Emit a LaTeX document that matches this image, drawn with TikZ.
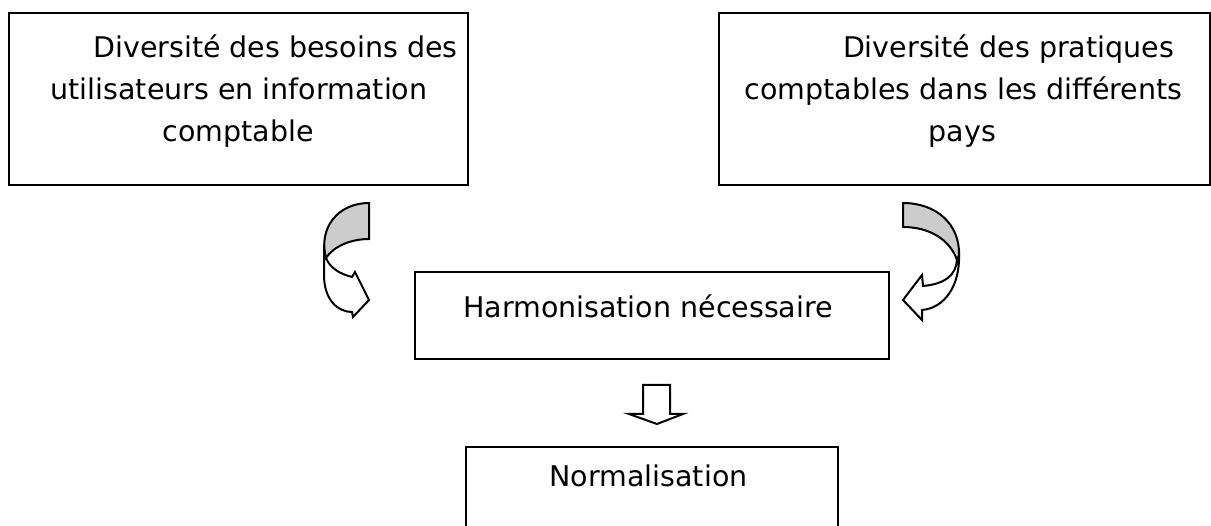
\documentclass[tikz,border=0pt]{standalone}
\usepackage{fontspec}
\setmainfont{DejaVu Sans}
\begin{document}
\begin{tikzpicture}[x=1pt,y=-1pt,
  box/.style={draw=black, line width=2.4pt, rectangle, inner sep=0pt},
  txt/.style={inner sep=0pt, font=\fontsize{28.5}{42}\selectfont},
  frontface/.style={draw=black, line width=2pt, line join=miter, fill=white},
  backface/.style={draw=black, line width=2pt, line join=miter, fill=black!20}]
\clip (0,0) rectangle (1211,526);
\fill[white] (0,0) rectangle (1211,526);

% boxes
\node[box, minimum width=459pt, minimum height=172pt] (b1) at (238.5,99) {};
\node[box, minimum width=491pt, minimum height=172pt] (b2) at (964.5,99) {};
\node[box, minimum width=474pt, minimum height=87pt] (h) at (652,315.5) {};
\node[box, minimum width=372pt, minimum height=110pt] (n) at (652,502) {};

% texts
\node[txt, anchor=base] (l1) at (275.5,58) {Diversité des besoins des};
\node[txt, anchor=base] (l2) at (239,100) {utilisateurs en information};
\node[txt, anchor=base] (l3) at (238,142) {comptable};
\node[txt, anchor=base] (r1) at (1008.5,58) {Diversité des pratiques};
\node[txt, anchor=base] (r2) at (963.5,100) {comptables dans les différents};
\node[txt, anchor=base] (r3) at (962.5,142) {pays};
\node[txt, anchor=base] (ht) at (648,318) {Harmonisation nécessaire};
\node[txt, anchor=base] (nt) at (648.5,487) {Normalisation};

% left curved arrow
\draw[frontface] (324,250) -- (324,275) .. controls (324,300) and (338,312) .. (352,312)
  -- (353,317) -- (369,300) -- (355,272) -- (352,277)
  .. controls (340,274) and (330,268) .. (326,258) -- cycle;
\draw[backface] (369,203) -- (369,239) .. controls (350,239) and (333,247) .. (326,258)
  .. controls (318,228) and (338,203) .. cycle;

% right curved arrow
\draw[frontface] (959,255) .. controls (960,285) and (945,308) .. (922,310)
  -- (922,320) -- (903,300) -- (922,275) -- (923,286)
  .. controls (945,284) and (956,275) .. (957,260) -- cycle;
\draw[backface] (903,203) .. controls (936,203) and (960,224) .. (959,255)
  -- (957,260) .. controls (950,240) and (930,227) .. (903,227) -- cycle;

% down arrow
\draw[frontface] (643,385) -- (670,385) -- (670,414) -- (683,414) -- (657,424)
  -- (629,414) -- (643,414) -- cycle;
\end{tikzpicture}
\end{document}
